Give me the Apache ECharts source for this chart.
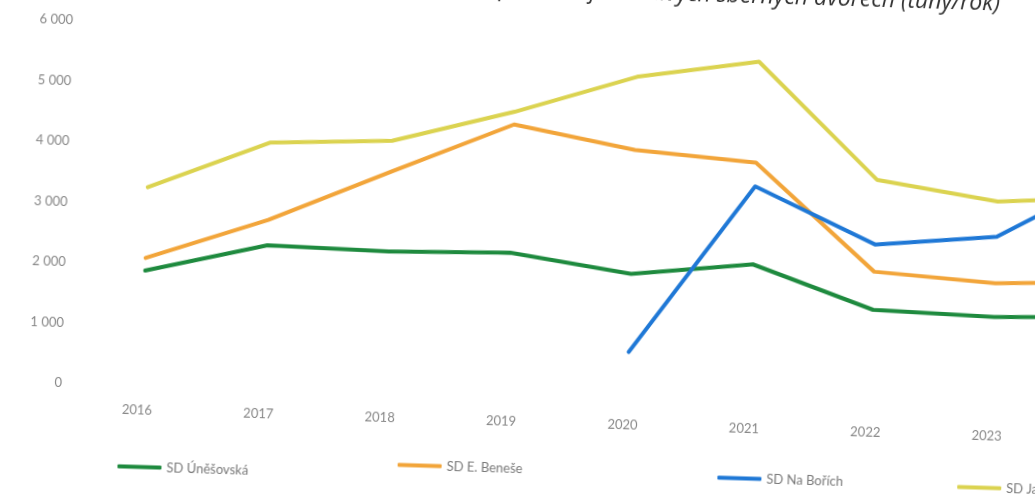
<!DOCTYPE html>
<html>
<head>
<meta charset="utf-8">
<script src="https://cdn.jsdelivr.net/npm/echarts@6/dist/echarts.min.js"></script>
<style>
html,body{margin:0;padding:0;width:1035px;height:499px;overflow:hidden;background:#fff;}
#c{position:absolute;left:0;top:-40px;width:1200px;height:560px;transform-origin:60px 423px;transform:rotate(1.75deg);}
</style>
</head>
<body>
<div id="c"></div>
<script>
const years = ['2016','2017','2018','2019','2020','2021','2022','2023','2024'];
const unesovska = [1900, 2380, 2340, 2380, 2090, 2310, 1620, 1560, 1620];
const benese = [2110, 2800, 3660, 4500, 4140, 3990, 2250, 2120, 2200];
const naBorich = [null, null, null, null, 800, 3600, 2700, 2890, 4000];
const jatecni = [3280, 4080, 4170, 4710, 5350, 5660, 3770, 3470, 3600];
const seriesNames = ['SD Úněšovská', 'SD E. Beneše', 'SD Na Bořích', 'SD Jateční'];
const titleText = 'Množství odpadů na jednotlivých sběrných dvorech (tuny/rok)';

const colors = ['#1e8a3e', '#f2a53a', '#1f78d6', '#dbd350'];
const fontFam = 'Lato, "Noto Sans", sans-serif';
const chart = echarts.init(document.getElementById('c'), null, {renderer:'canvas'});
const legendX = [120, 400, 720, 960];
const legendTop = [498, 488, 491, 493];
const dataArr = [unesovska, benese, naBorich, jatecni];
chart.setOption({
  backgroundColor: '#fff',
  animation: false,
  title: {
    text: titleText, right: 212, top: 4, padding: 0,
    textStyle: {fontFamily: '"Open Sans", sans-serif', fontStyle: 'italic', fontWeight: 'normal', fontSize: 23, color: '#333'}
  },
  legend: seriesNames.map((n, i) => ({
    data: [n], left: legendX[i], top: legendTop[i], padding: 0,
    icon: 'roundRect', itemWidth: 44, itemHeight: 4,
    textStyle: {fontFamily: fontFam, fontSize: 13, color: '#7a7a7a'}
  })),
  grid: {left: 81, top: 60, width: 1093, height: 363},
  xAxis: {
    type: 'category', data: years, boundaryGap: true,
    axisLine: {show: false}, axisTick: {show: false},
    axisLabel: {margin: 18, padding: [0, 8, 0, 0], fontFamily: fontFam, fontSize: 13, color: '#888'}
  },
  yAxis: {
    type: 'value', min: 0, max: 6000, interval: 1000,
    axisLine: {show: false}, axisTick: {show: false}, splitLine: {show: false},
    axisLabel: {margin: 19, fontFamily: fontFam, fontSize: 13, color: '#888',
      formatter: v => String(v).replace(/\B(?=(\d{3})+(?!\d))/g, ' ')}
  },
  series: seriesNames.map((n, i) => ({
    name: n, type: 'line', data: dataArr[i], showSymbol: false, symbol: 'none',
    connectNulls: false,
    lineStyle: {color: colors[i], width: 4, cap: 'round', join: 'round'},
    itemStyle: {color: colors[i]}
  }))
});
</script>
</body>
</html>
